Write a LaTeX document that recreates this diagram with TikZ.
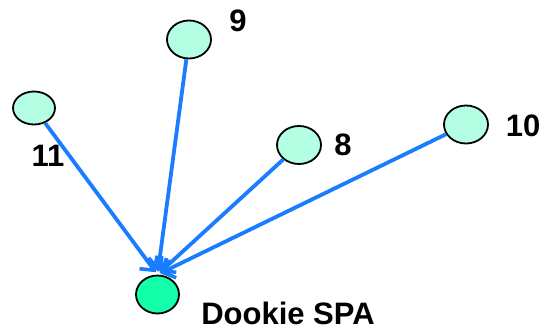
\documentclass[tikz,border=0pt]{standalone}
\usepackage{fontspec}
\setmainfont{Liberation Sans}
\usetikzlibrary{arrows.meta,shapes.geometric}
\definecolor{nodefill}{RGB}{180,255,228}
\definecolor{rootfill}{RGB}{20,255,170}
\definecolor{edgeblue}{RGB}{25,125,255}
\begin{document}
\begin{tikzpicture}[x=1pt,y=1pt,
  peer/.style={ellipse, draw=black, line width=1.8pt, fill=nodefill,
    minimum width=44pt, minimum height=38pt, inner sep=0pt},
  rootnode/.style={peer, fill=rootfill, minimum width=43pt},
  lbl/.style={font=\bfseries\fontsize{31}{31}\selectfont, inner sep=0pt, anchor=base},
  link/.style={draw=edgeblue, line width=3.8pt,
    -{Straight Barb[length=10pt,width=22pt,line width=3.6pt]}, shorten >=3pt}]
\useasboundingbox (0,0) rectangle (545,332);
% peers
\node[peer] (n9)  at (189,292.5) {};
\node[peer, minimum width=42pt, minimum height=33pt] (n11) at (34,224) {};
\node[peer] (n8)  at (299,187) {};
\node[peer] (n10) at (466,207.5) {};
\node[rootnode] (spa) at (157.5,37.5) {};
% labels, placed by their baselines
\node[lbl] (t9)  at (238,300) {9};
\node[lbl] (t11) at (48,165) {11};
\node[lbl] (t8)  at (343,176) {8};
\node[lbl] (t10) at (523,195) {10};
\node[lbl] (tspa) at (288,7.5) {Dookie SPA};
% links to the SPA
\draw[link] (n11) -- (spa.north);
\draw[link] (n9)  -- (spa.north);
\draw[link] (n8)  -- (spa.north);
\draw[link] (n10) -- (spa.north);
\end{tikzpicture}
\end{document}
